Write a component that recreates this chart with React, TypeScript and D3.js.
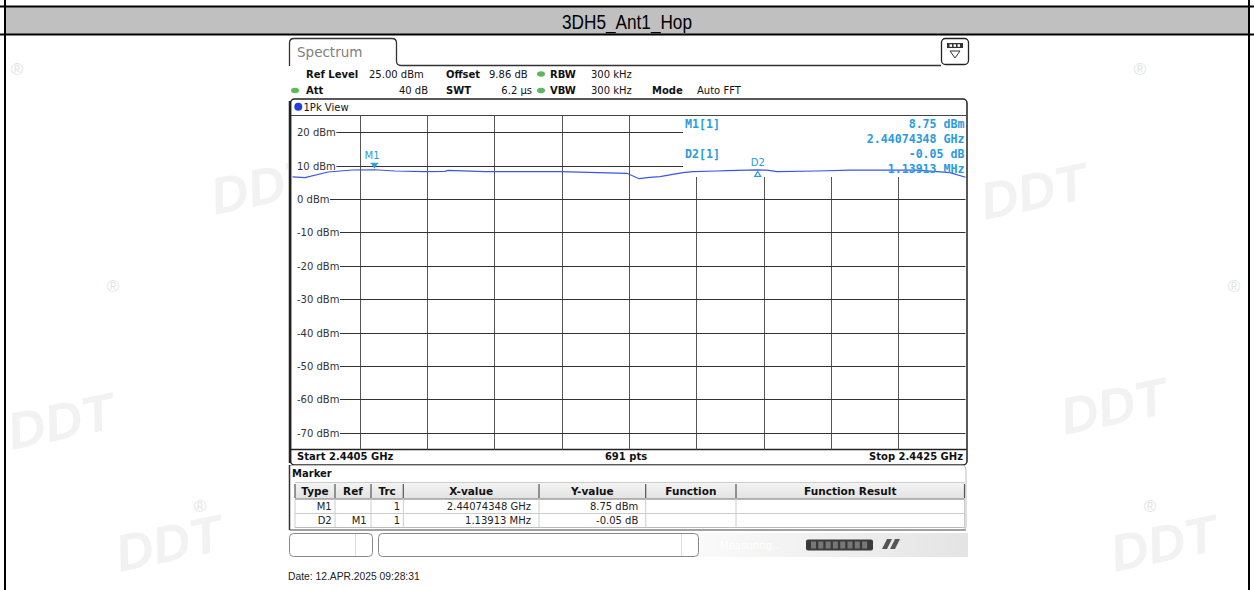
import React from "react";
import * as d3 from "d3";

// ---------- data ----------
const title = "3DH5_Ant1_Hop";
const startGHz = 2.4405;
const stopGHz = 2.4425;
const refLevel = 25;
const bottomLevel = -75;
const yTicks = [20, 10, 0, -10, -20, -30, -40, -50, -60, -70];
const xDivisions = 10;
const sweepPoints = 691;

const traceFreqGHz = [
  2.4405, 2.440537, 2.440606, 2.440677, 2.440743, 2.440805, 2.440894, 2.440953, 2.440962,
  2.441072, 2.441295, 2.441494, 2.44153, 2.441562, 2.441592, 2.44166, 2.44169, 2.441762,
  2.441791, 2.441882, 2.44191, 2.44194, 2.442059, 2.442157, 2.442356, 2.442454, 2.4425,
];
const traceLevelDbm = [
  6.6, 6.38, 8.08, 8.68, 8.75, 8.38, 8.17, 8.29, 8.59,
  8.17, 8.2, 7.69, 6.08, 6.5, 6.68, 7.87, 8.17, 8.38,
  8.47, 8.7, 8.62, 8.17, 8.38, 8.62, 8.62, 7.87, 6.5,
];

const markerNames = ["M1", "D2"];
const markerRefs = ["", "M1"];
const markerTrc = ["1", "1"];
const markerFreqGHz = [2.44074348, 2.44188261];
const markerLevelDbm = [8.75, 8.7];
const markerXText = ["2.44074348 GHz", "1.13913 MHz"];
const markerYText = ["8.75 dBm", "-0.05 dB"];

const tableHeaders = ["Type", "Ref", "Trc", "X-value", "Y-value", "Function", "Function Result"];

// ---------- layout helpers ----------
const CW: Record<string, number> = {
  "0": 6.36, "1": 6.36, "2": 6.36, "3": 6.36, "4": 6.36, "5": 6.36, "6": 6.36, "7": 6.36, "8": 6.36, "9": 6.36,
  "-": 3.61, " ": 3.18, d: 6.35, B: 6.86, m: 9.74,
};
const textW = (s: string) => s.split("").reduce((a, c) => a + (CW[c] ?? 6), 0);

const SANS = "'DejaVu Sans', Verdana, sans-serif";
const MONO = "'DejaVu Sans Mono', monospace";
const ARIAL = "'Liberation Sans', Arial, sans-serif";
const MK = "#2a9be0";
const TRACE = "#3b55e6";

export default function App() {
  const x = d3.scaleLinear().domain([startGHz, stopGHz]).range([292.5, 965.5]);
  const y = d3.scaleLinear().domain([bottomLevel, refLevel]).range([449.5, 115.5]);
  const xGrid = d3.range(1, xDivisions).map((i) => startGHz + ((stopGHz - startGHz) * i) / xDivisions);
  const line = d3
    .line<number>()
    .x((_, i) => x(traceFreqGHz[i]))
    .y((d) => y(d))
    .curve(d3.curveLinear);
  const boxLeft = 683;
  const boxBottom = 177;

  const colX = [295, 335, 371, 403.3, 539, 645.7, 736, 964.5];
  const colMid = colX.slice(0, -1).map((c, i) => (c + colX[i + 1]) / 2);

  const watermarks = [
    { x: 215, y: 215 },
    { x: 985, y: 220 },
    { x: 1065, y: 435 },
    { x: 12, y: 450 },
    { x: 120, y: 572 },
    { x: 1115, y: 572 },
  ];
  const regs = [
    [17, 75], [1140, 75], [113, 292], [1234, 292], [200, 512], [1150, 512],
  ];

  return (
    <svg
      width={1254}
      height={590}
      style={{ position: "absolute", left: 0, top: 0, background: "#fff" }}
      xmlns="http://www.w3.org/2000/svg"
    >
      <defs>
        <linearGradient id="stat" x1="0" x2="1" y1="0" y2="0">
          <stop offset="0" stopColor="#fafafa" />
          <stop offset="1" stopColor="#e4e4e4" />
        </linearGradient>
        <linearGradient id="hdr" x1="0" x2="0" y1="0" y2="1">
          <stop offset="0" stopColor="#f4f4f4" />
          <stop offset="1" stopColor="#e2e2e2" />
        </linearGradient>
      </defs>
      <rect x={0} y={0} width={1254} height={590} fill="#fff" />

      {/* watermarks */}
      {watermarks.map((w, i) => (
        <text
          key={"wm" + i}
          x={w.x}
          y={w.y}
          transform={`rotate(-12,${w.x},${w.y})`}
          fontFamily={ARIAL}
          fontStyle="italic"
          fontWeight="bold"
          fontSize={52}
          fill="#f2f2f2"
        >
          DDT
        </text>
      ))}
      {regs.map(([rx, ry], i) => (
        <text key={"rg" + i} x={rx} y={ry} fontFamily={ARIAL} fontSize={17} fill="#e4e4e4" textAnchor="middle">
          ®
        </text>
      ))}

      {/* outer frame + header band */}
      <rect x={5} y={7} width={1244} height={27} fill="#c0c0c0" />
      <line x1={0} x2={1254} y1={6.5} y2={6.5} stroke="#000" strokeWidth={2} />
      <line x1={0} x2={1254} y1={34.5} y2={34.5} stroke="#000" strokeWidth={2} />
      <line x1={5} x2={5} y1={0} y2={590} stroke="#000" strokeWidth={2} />
      <line x1={1249} x2={1249} y1={0} y2={590} stroke="#000" strokeWidth={2} />
      <text
        x={627}
        y={29}
        textAnchor="middle"
        fontFamily={ARIAL}
        fontSize={20}
        textLength={130}
        lengthAdjust="spacingAndGlyphs"
        fill="#000"
      >
        {title}
      </text>

      {/* screenshot background */}
      <rect x={288} y={36} width={682} height={524} fill="#fff" />

      {/* Spectrum tab */}
      <path
        d="M289.5,66 L289.5,43 Q289.5,38.5 294,38.5 L392,38.5 Q396.5,38.5 396.5,43 L396.5,61 Q396.5,65.5 401,65.5 L941,65.5"
        fill="none"
        stroke="#333"
        strokeWidth={1.3}
      />
      <text x={297} y={57} fontFamily={SANS} fontSize={13.5} fill="#808080">
        Spectrum
      </text>
      <rect x={941.5} y={38.5} width={27} height={26} rx={4} fill="#fff" stroke="#222" strokeWidth={1.3} />
      <rect x={947} y={43} width={16} height={5} fill="#333" />
      {[949.5, 953.5, 957.5].map((cx, i) => (
        <rect key={"ic" + i} x={cx} y={44.3} width={2.5} height={2.5} fill="#fff" />
      ))}
      <path d="M950,51 L960,51 L955,58 Z" fill="#fff" stroke="#333" strokeWidth={1} />

      {/* settings rows */}
      <g fontFamily={SANS} fontSize={10} fill="#111">
        <text x={306} y={77.5} fontWeight="bold">Ref Level</text>
        <text x={369} y={77.5}>25.00 dBm</text>
        <text x={446} y={77.5} fontWeight="bold">Offset</text>
        <text x={489} y={77.5}>9.86 dB</text>
        <text x={550} y={77.5} fontWeight="bold">RBW</text>
        <text x={591} y={77.5}>300 kHz</text>
        <text x={306} y={94} fontWeight="bold">Att</text>
        <text x={428} y={94} textAnchor="end">40 dB</text>
        <text x={446} y={94} fontWeight="bold">SWT</text>
        <text x={532} y={94} textAnchor="end">6.2 µs</text>
        <text x={550} y={94} fontWeight="bold">VBW</text>
        <text x={591} y={94}>300 kHz</text>
        <text x={652} y={94} fontWeight="bold">Mode</text>
        <text x={697} y={94}>Auto FFT</text>
      </g>
      {[
        [541, 74],
        [295, 90.5],
        [541, 90.5],
      ].map(([cx, cy], i) => (
        <ellipse key={"gd" + i} cx={cx} cy={cy} rx={4} ry={2.8} fill="#5cb85c" />
      ))}

      {/* diagram frame */}
      <rect x={290.5} y={99} width={676.5} height={366} rx={4} fill="#fff" stroke="#222" strokeWidth={1.5} />
      <line x1={290} x2={290} y1={101} y2={463} stroke="#222" strokeWidth={2.5} />
      <line x1={291} x2={966.5} y1={115.5} y2={115.5} stroke="#444" strokeWidth={1} />
      <line x1={291} x2={966.5} y1={449.5} y2={449.5} stroke="#222" strokeWidth={1.3} />
      <circle cx={298.3} cy={106.7} r={4} fill="#1f3fe0" />
      <text x={303.5} y={110.5} fontFamily={SANS} fontSize={10} fill="#111">
        1Pk View
      </text>

      {/* grid */}
      {xGrid.map((f, i) => {
        const gx = Math.round(x(f)) + 0.5;
        return (
          <line
            key={"vx" + i}
            x1={gx}
            x2={gx}
            y1={gx > boxLeft ? boxBottom : 115.5}
            y2={449.5}
            stroke="#555"
            strokeWidth={1}
          />
        );
      })}
      {yTicks.map((v, i) => {
        const gy = Math.round(y(v)) + 0.5;
        const lbl = `${v} dBm`;
        return (
          <g key={"hy" + i}>
            <line
              x1={297.5 + textW(lbl)}
              x2={gy < boxBottom ? boxLeft : 965.5}
              y1={gy}
              y2={gy}
              stroke="#333"
              strokeWidth={1}
            />
            <text x={297} y={gy + 3.6} fontFamily={SANS} fontSize={10} fill="#333">
              {lbl}
            </text>
          </g>
        );
      })}

      {/* trace */}
      <path d={line(traceLevelDbm) || ""} fill="none" stroke={TRACE} strokeWidth={1.2} />

      {/* markers */}
      <text x={372} y={158.5} fontFamily={SANS} fontSize={10} fill={MK} textAnchor="middle">
        M1
      </text>
      <path
        d={`M${x(markerFreqGHz[0]) - 3.5},${y(markerLevelDbm[0]) - 6.5} L${x(markerFreqGHz[0]) + 3.5},${y(markerLevelDbm[0]) - 6.5} L${x(markerFreqGHz[0])},${y(markerLevelDbm[0]) - 1} Z`}
        fill={MK}
      />
      <line
        x1={x(markerFreqGHz[0]) - 4}
        x2={x(markerFreqGHz[0]) + 4}
        y1={y(markerLevelDbm[0]) - 6.5}
        y2={y(markerLevelDbm[0]) - 6.5}
        stroke={MK}
        strokeWidth={1}
      />
      <text x={x(markerFreqGHz[1])} y={166} fontFamily={SANS} fontSize={10} fill={MK} textAnchor="middle">
        D2
      </text>
      <path
        d={`M${x(markerFreqGHz[1])},${y(markerLevelDbm[1]) + 1.5} L${x(markerFreqGHz[1]) + 3},${y(markerLevelDbm[1]) + 6.5} L${x(markerFreqGHz[1]) - 3},${y(markerLevelDbm[1]) + 6.5} Z`}
        fill="none"
        stroke={MK}
        strokeWidth={1.2}
      />

      {/* marker readout */}
      <g fontFamily={MONO} fontSize={11.6} fontWeight="bold" fill={MK}>
        <text x={685} y={127.5}>M1[1]</text>
        <text x={964.5} y={127.5} textAnchor="end">{markerYText[0]}</text>
        <text x={964.5} y={142.5} textAnchor="end">{markerXText[0]}</text>
        <text x={685} y={157.5}>D2[1]</text>
        <text x={964.5} y={157.5} textAnchor="end">{markerYText[1]}</text>
        <text x={964.5} y={172.5} textAnchor="end">{markerXText[1]}</text>
      </g>

      {/* start / stop row */}
      <g fontFamily={SANS} fontSize={10} fontWeight="bold" fill="#111">
        <text x={297} y={460}>{`Start ${startGHz} GHz`}</text>
        <text x={626} y={460} textAnchor="middle">{`${sweepPoints} pts`}</text>
        <text x={963} y={460} textAnchor="end">{`Stop ${stopGHz} GHz`}</text>
      </g>

      {/* marker table */}
      <path
        d="M289,465.5 L962,465.5 Q966,465.5 966,470 L966,527 Q966,530 962,530 L289,530"
        fill="#fff"
        stroke="#bbb"
        strokeWidth={1}
      />
      <line x1={289.5} x2={289.5} y1={465} y2={530} stroke="#333" strokeWidth={1.5} />
      <line x1={290} x2={966} y1={530} y2={530} stroke="#666" strokeWidth={1.2} />
      <text x={292} y={477} fontFamily={SANS} fontSize={10} fontWeight="bold" fill="#111">
        Marker
      </text>
      <rect x={295} y={482.5} width={669.5} height={16.5} fill="url(#hdr)" />
      <line x1={295} x2={964.5} y1={482.5} y2={482.5} stroke="#ccc" />
      <line x1={295} x2={964.5} y1={499} y2={499} stroke="#777" />
      <line x1={295} x2={964.5} y1={513.5} y2={513.5} stroke="#ccc" />
      <line x1={295} x2={964.5} y1={527.5} y2={527.5} stroke="#bbb" />
      {colX.map((c, i) => (
        <g key={"cs" + i}>
          <line x1={c} x2={c} y1={484} y2={498} stroke="#555" strokeWidth={1.2} />
          <line x1={c} x2={c} y1={499} y2={527.5} stroke="#ccc" strokeWidth={1} />
        </g>
      ))}
      {tableHeaders.map((h, i) => (
        <text
          key={"th" + i}
          x={colMid[i]}
          y={495}
          textAnchor="middle"
          fontFamily={SANS}
          fontSize={10.5}
          fontWeight="bold"
          fill="#111"
        >
          {h}
        </text>
      ))}
      {markerNames.map((m, r) => {
        const by = 510 + r * 13.5;
        return (
          <g key={"row" + r} fontFamily={SANS} fontSize={10} fill="#222" textAnchor="end">
            <text x={331.7} y={by}>{m}</text>
            <text x={366.7} y={by}>{markerRefs[r]}</text>
            <text x={400} y={by}>{markerTrc[r]}</text>
            <text x={531} y={by}>{markerXText[r]}</text>
            <text x={638.3} y={by}>{markerYText[r]}</text>
          </g>
        );
      })}

      {/* status bar */}
      <rect x={289.5} y={533.5} width={83} height={23} rx={4} fill="#fff" stroke="#888" />
      <line x1={355.5} x2={355.5} y1={534} y2={556} stroke="#ddd" />
      <rect x={378.5} y={533.5} width={320} height={23} rx={4} fill="#fff" stroke="#888" />
      <line x1={681.5} x2={681.5} y1={534} y2={556} stroke="#ddd" />
      <rect x={700} y={533} width={268} height={24} fill="url(#stat)" />
      <text x={720} y={549} fontFamily={SANS} fontSize={10} fill="#fff">
        Measuring...
      </text>
      <rect x={806} y={539.5} width={67} height={11} rx={2} fill="#3a3a3a" />
      {d3.range(8).map((i) => (
        <rect key={"pb" + i} x={811 + i * 7.3} y={541.5} width={5} height={7} fill="#777" />
      ))}
      <path d="M882,549 L887,539 L892,539 L887,549 Z M890,549 L895,539 L900,539 L895,549 Z" fill="#555" />

      {/* date */}
      <text x={288} y={580} fontFamily={ARIAL} fontSize={10.3} fill="#222">
        Date: 12.APR.2025  09:28:31
      </text>
    </svg>
  );
}
